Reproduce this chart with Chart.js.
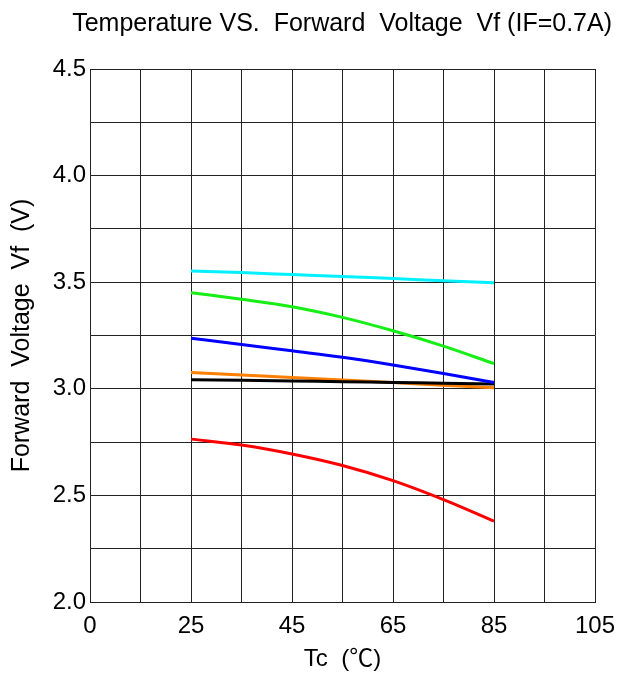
<!DOCTYPE html>
<html>
<head>
<meta charset="utf-8">
<title>Temperature VS. Forward Voltage</title>
<script src="https://cdn.jsdelivr.net/npm/chart.js@4.4.1/dist/chart.umd.min.js"></script>
<style>
    html, body { margin: 0; padding: 0; background: #fff; }
    #wrap { width: 624px; height: 676px; }
</style>
</head>
<body>
<div id="wrap"><canvas id="vfChart" width="624" height="676"></canvas></div>
<script>
// Tc vs Vf @ IF=0.7A

// ==================== DATA ====================
const temps = [25, 35, 45, 55, 65, 75, 85];
const vfCyan   = [3.553, 3.545, 3.536, 3.527, 3.517, 3.507, 3.497];
const vfGreen  = [3.451, 3.420, 3.385, 3.335, 3.272, 3.200, 3.118];
const vfBlue   = [3.237, 3.208, 3.178, 3.148, 3.112, 3.072, 3.030];
const vfOrange = [3.077, 3.065, 3.053, 3.041, 3.029, 3.017, 3.005];
const vfBlack  = [3.043, 3.040, 3.037, 3.033, 3.030, 3.026, 3.023];
const vfRed    = [2.764, 2.736, 2.694, 2.640, 2.569, 2.480, 2.379];

// the original axis starts at 5 but prints "0" there
const xTickValues = [5, 25, 45, 65, 85, 105];
const xTickText   = ['0', '25', '45', '65', '85', '105'];
const yTickValues = [2.0, 2.5, 3.0, 3.5, 4.0, 4.5];

const FONT = "'Liberation Sans', Arial, 'Noto Sans CJK SC', sans-serif";
const GRID = '#222';

function series(values, color) {
    return {
        data: temps.map((t, i) => ({ x: t, y: values[i] })),
        borderColor: color, backgroundColor: color,
        borderWidth: 3, pointRadius: 0, cubicInterpolationMode: 'monotone', fill: false
    };
}

new Chart(document.getElementById('vfChart'), {
    type: 'line',
    data: {
        datasets: [
            series(vfCyan, '#00f0ff'),
            series(vfGreen, '#16ee16'),
            series(vfBlue, '#0000ff'),
            series(vfBlack, '#000000'),
            series(vfOrange, '#ff7f00'),
            series(vfRed, '#ff0000')
        ]
    },
    options: {
        responsive: false, animation: false,
        layout: { padding: { left: 0, right: 12, top: 0, bottom: 0 } },
        plugins: {
            legend: { display: false },
            tooltip: { enabled: false },
            title: {
                display: true, align: 'end',
                text: 'Temperature VS.  Forward  Voltage  Vf (IF=0.7A)',
                color: '#000', font: { family: FONT, size: 25, weight: 'normal' },
                padding: { top: 9, bottom: 30 }
            }
        },
        scales: {
            x: {
                type: 'linear', min: 5, max: 105,
                afterFit: s => { s.height = 74; s.paddingRight = 29; },
                afterBuildTicks: s => { s.ticks = Array.from({ length: 11 }, (_, i) => ({ value: 5 + i * 10 })); },
                ticks: {
                    color: '#000', padding: 10, autoSkip: false, maxRotation: 0,
                    font: { family: FONT, size: 24 },
                    callback: v => { const i = xTickValues.indexOf(v); return i >= 0 ? xTickText[i] : ''; }
                },
                grid: { color: GRID, lineWidth: 1, drawTicks: false },
                border: { color: GRID, width: 1 },
                title: {
                    display: true, text: 'Tc  (℃)', color: '#000',
                    font: { family: "'Liberation Sans', 'Noto Sans CJK SC', sans-serif", size: 24 },
                    padding: { top: 0, bottom: 2 }
                }
            },
            y: {
                min: 2, max: 4.5,
                afterFit: s => { s.width = 90; },
                afterBuildTicks: s => { s.ticks = Array.from({ length: 11 }, (_, i) => ({ value: 2 + i * 0.25 })); },
                ticks: {
                    color: '#000', padding: 4, autoSkip: false,
                    font: { family: FONT, size: 24 },
                    callback: v => yTickValues.some(t => Math.abs(t - v) < 1e-6) ? v.toFixed(1) : ''
                },
                grid: { color: GRID, lineWidth: 1, drawTicks: false },
                border: { color: GRID, width: 1 },
                title: {
                    display: true, text: 'Forward  Voltage  Vf  (V)', color: '#000',
                    font: { family: FONT, size: 25 }, padding: { top: 7, bottom: 0 }
                }
            }
        }
    }
});
</script>
</body>
</html>
